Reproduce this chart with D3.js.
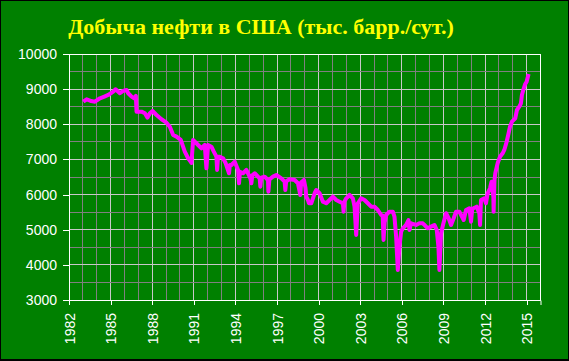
<!DOCTYPE html>
<html><head><meta charset="utf-8">
<script src="https://cdn.jsdelivr.net/npm/d3@7"></script>
<style>body{margin:0;background:#000}svg{display:block}</style>
</head><body>
<script>
const title = "Добыча нефти в США (тыс. барр./сут.)";
const yTicks = [3000,4000,5000,6000,7000,8000,9000,10000];
const xTicks = [1982,1985,1988,1991,1994,1997,2000,2003,2006,2009,2012,2015];
// decimal year of each reading
const years = [1983.03,1983.27,1983.6,1983.87,1984.23,1984.55,1984.83,1985.19,1985.36,1985.67,1985.9,1986.15,1986.27,1986.51,1986.70,1986.82,1986.87,1987.23,1987.47,1987.66,1987.83,1988.02,1988.31,1988.67,1989.03,1989.27,1989.51,1989.75,1990.06,1990.35,1990.59,1990.75,1990.83,1990.95,1991.31,1991.55,1991.79,1991.91,1992.03,1992.27,1992.44,1992.63,1992.68,1992.75,1992.87,1993.11,1993.30,1993.54,1993.6,1993.71,1993.95,1994.19,1994.26,1994.33,1994.55,1994.79,1995.08,1995.15,1995.22,1995.39,1995.75,1995.80,1995.86,1996.11,1996.35,1996.38,1996.45,1996.71,1996.95,1997.31,1997.55,1997.60,1997.66,1997.91,1998.27,1998.51,1998.68,1998.74,1998.94,1999.05,1999.11,1999.23,1999.30,1999.47,1999.71,1999.83,2000.07,2000.31,2000.55,2000.79,2001.03,2001.27,2001.51,2001.75,2001.80,2001.86,2001.99,2002.23,2002.47,2002.59,2002.71,2002.83,2003.07,2003.31,2003.55,2003.79,2004.03,2004.27,2004.51,2004.62,2004.68,2004.76,2004.87,2005.11,2005.35,2005.47,2005.59,2005.71,2005.83,2005.95,2006.07,2006.31,2006.48,2006.55,2006.67,2007.03,2007.27,2007.51,2007.63,2007.87,2008.11,2008.35,2008.52,2008.64,2008.71,2008.83,2009.0,2009.19,2009.38,2009.55,2009.74,2009.91,2010.15,2010.34,2010.46,2010.63,2010.87,2010.99,2011.08,2011.16,2011.40,2011.59,2011.64,2011.71,2011.95,2012.07,2012.19,2012.36,2012.47,2012.60,2012.62,2012.68,2012.74,2012.91,2013.08,2013.27,2013.39,2013.56,2013.70,2013.80,2013.94,2014.18,2014.30,2014.47,2014.59,2014.66,2014.76,2014.90,2015.0,2015.14];
// production, thousand barrels per day
const production = [8644,8712,8660,8644,8740,8790,8834,8928,8997,8883,8950,8977,8883,8786,8740,8806,8359,8359,8313,8189,8313,8379,8265,8143,8046,7932,7696,7648,7554,7221,7033,6950,6900,7554,7411,7317,7411,6748,7411,7363,7221,7078,6700,7078,7078,7033,6890,6606,6842,6842,6936,6700,6321,6650,6606,6700,6463,6321,6550,6606,6463,6225,6480,6510,6415,6082,6430,6510,6558,6463,6367,6131,6380,6435,6415,6321,5988,6350,6415,6200,5940,5846,5752,5752,6037,6131,6037,5798,5752,5846,5940,5846,5798,5752,5513,5800,5894,5988,5894,5655,4850,5752,5894,5846,5752,5655,5655,5561,5419,5400,4708,5200,5419,5513,5513,5370,4801,3854,4517,4944,5040,5135,5277,4992,5183,5135,5183,5183,5135,5040,5088,5135,4992,4517,3854,4898,5183,5467,5325,5135,5325,5513,5513,5370,5277,5561,5609,5229,5600,5609,5655,5467,5135,5846,5894,5752,6037,6179,6367,5940,5513,6400,6606,6890,7078,7175,7269,7505,7744,7932,8074,8171,8407,8502,8598,8834,8977,9147,9213,9432];

const W = 569, H = 361;
const svg = d3.select("body").append("svg").attr("width", W).attr("height", H);
svg.append("rect").attr("width", W).attr("height", H).attr("fill", "#000");
svg.append("rect").attr("x", 1).attr("y", 1).attr("width", W - 2).attr("height", H - 3).attr("fill", "#008000");

const L = 69, R = 540.5, T = 54, B = 300;
const x = d3.scaleLinear().domain([1982, 2016]).range([L, R]);
const y = d3.scaleLinear().domain([3000, 10000]).range([B, T]);

const g = svg.append("g");
d3.range(1983, 2016).forEach(yr => {
  g.append("line").attr("x1", x(yr)).attr("x2", x(yr)).attr("y1", T).attr("y2", B)
    .attr("stroke", xTicks.includes(yr) ? "#c8c8c8" : "#808080").attr("stroke-width", 1)
    .attr("shape-rendering", "crispEdges");
});
d3.range(3500, 10000, 500).forEach(v => {
  g.append("line").attr("x1", L).attr("x2", R).attr("y1", y(v)).attr("y2", y(v))
    .attr("stroke", v % 1000 === 0 ? "#c8c8c8" : "#808080").attr("stroke-width", 1)
    .attr("shape-rendering", "crispEdges");
});
g.append("rect").attr("x", L).attr("y", T).attr("width", R - L).attr("height", B - T)
  .attr("fill", "none").attr("stroke", "#fff").attr("stroke-width", 1).attr("shape-rendering", "crispEdges");

const yAxis = d3.axisLeft(y).tickValues(yTicks).tickSize(6).tickPadding(6).tickFormat(d3.format("d"));
const ya = svg.append("g").attr("transform", `translate(${L},0)`).call(yAxis);
ya.select(".domain").attr("stroke", "#fff");
ya.selectAll(".tick line").attr("stroke", "#fff").attr("shape-rendering", "crispEdges");
ya.selectAll(".tick text").attr("fill", "#fff").attr("font-family", "Liberation Sans, Arial, sans-serif").attr("font-size", 14);

const xAxis = d3.axisBottom(x).tickValues(xTicks).tickSize(5).tickFormat(d3.format("d"));
const xa = svg.append("g").attr("transform", `translate(0,${B})`).call(xAxis);
xa.select(".domain").attr("stroke", "#fff");
xa.selectAll(".tick line").attr("stroke", "#fff").attr("shape-rendering", "crispEdges");
xa.selectAll(".tick text").attr("fill", "#fff").attr("font-family", "Liberation Sans, Arial, sans-serif").attr("font-size", 14)
  .attr("transform", "translate(0,13) rotate(-90)").attr("text-anchor", "end").attr("x", 0).attr("y", 0).attr("dy", "0.36em");

const pts = years.map((t, i) => [t, production[i]]);
svg.append("path").datum(pts)
  .attr("fill", "none").attr("stroke", "#ff00ff").attr("stroke-width", 4).attr("stroke-linejoin", "round")
  .attr("d", d3.line().x(d => x(d[0])).y(d => y(d[1])));

svg.append("text").attr("x", 261).attr("y", 34).attr("text-anchor", "middle")
  .attr("fill", "#ffff00").attr("font-family", "Liberation Serif, Times New Roman, serif")
  .attr("font-weight", "bold").attr("font-size", 22).text(title);
</script>
</body></html>
